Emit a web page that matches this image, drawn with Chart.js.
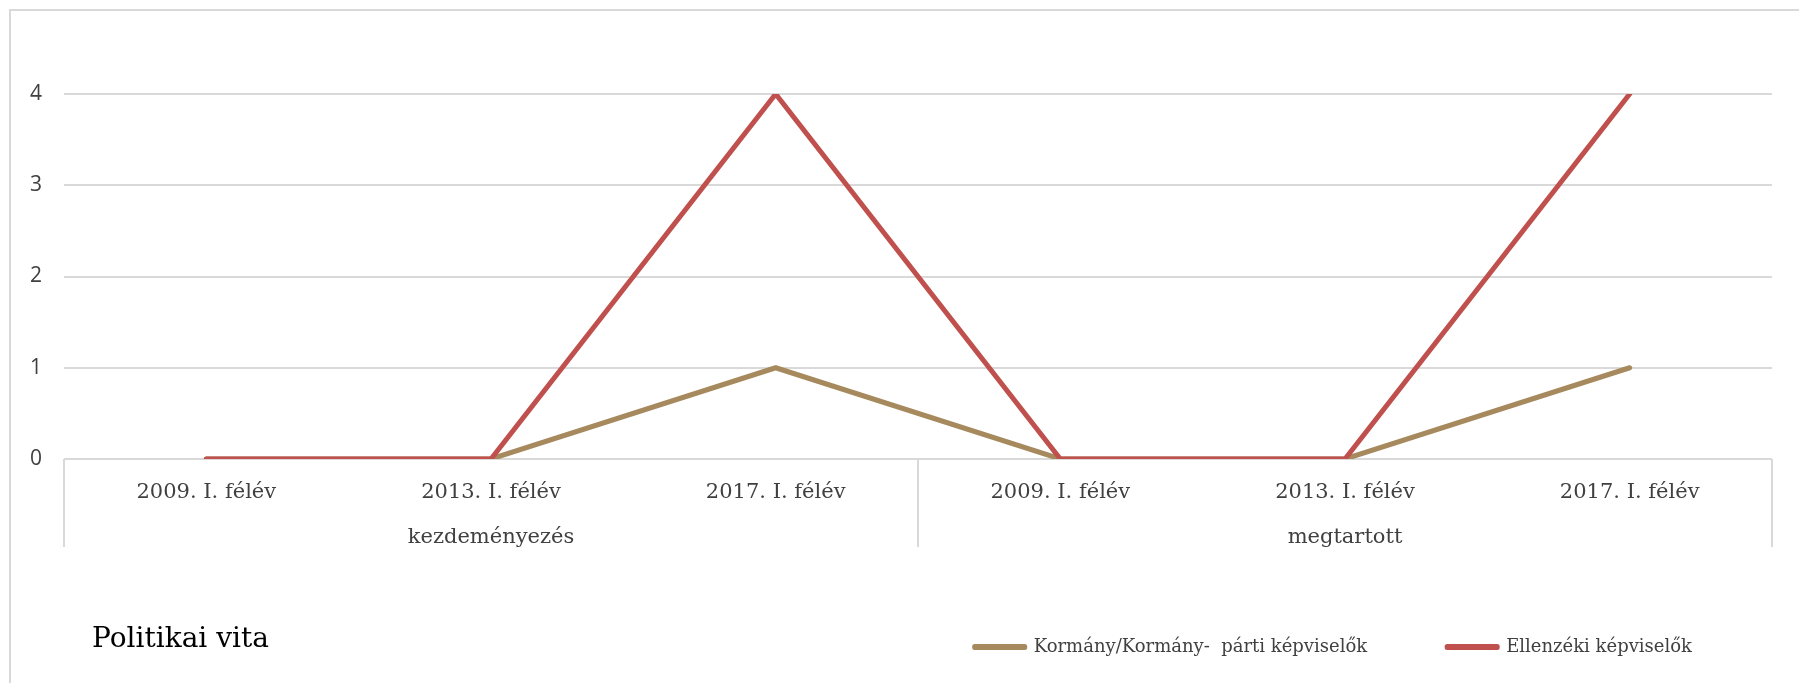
<!DOCTYPE html>
<html lang="hu">
<head>
<meta charset="utf-8">
<title>Politikai vita</title>
<script src="https://cdn.jsdelivr.net/npm/chart.js@4/dist/chart.umd.min.js"></script>
<style>
  html, body { margin: 0; padding: 0; background: #fff; overflow: hidden; }
  #frame { position: absolute; left: 9px; top: 9px; width: 1830px; height: 720px; border: 2px solid #d9d9d9; box-sizing: border-box; }
  #wrap { position: absolute; left: 0; top: 0; width: 1799px; height: 683px; }
  #title { position: absolute; left: 92px; top: 621px; font: 28px "DejaVu Serif", serif; line-height: 34px; color: #000; white-space: nowrap; }
</style>
</head>
<body>
<div id="frame"></div>
<div id="wrap"><canvas id="chart"></canvas></div>
<div id="title">Politikai vita</div>
<script>
// adatok (leolvasva az ábráról)
const categories = ["2009. I. félév", "2013. I. félév", "2017. I. félév", "2009. I. félév", "2013. I. félév", "2017. I. félév"];
const groups = ["kezdeményezés", "megtartott"];
const seriesNames = ["Kormány/Kormány-  párti képviselők", "Ellenzéki képviselők"];
const kormany = [0, 0, 1, 0, 0, 1];
const ellenzek = [0, 0, 4, 0, 0, 4];
const yTicks = [0, 1, 2, 3, 4];

const TAN = "#A68A5E", RED = "#C0504D", GRID = "#d9d9d9";
const serif = "'DejaVu Serif', serif";

new Chart(document.getElementById("chart"), {
  type: "line",
  data: {
    labels: categories,
    datasets: [
      { label: seriesNames[0], data: kormany, borderColor: TAN, backgroundColor: TAN, order: 2 },
      { label: seriesNames[1], data: ellenzek, borderColor: RED, backgroundColor: RED, order: 1 }
    ]
  },
  options: {
    responsive: true,
    maintainAspectRatio: false,
    animation: false,
    layout: { padding: { left: 0, right: 27, top: 94, bottom: 17 } },
    elements: {
      line: { borderWidth: 5, tension: 0, borderCapStyle: "round", borderJoinStyle: "round" },
      point: { radius: 0, hoverRadius: 0 }
    },
    scales: {
      x: {
        offset: true,
        weight: 0,
        border: { display: false },
        grid: {
          offset: true,
          drawOnChartArea: false,
          tickLength: 88,
          lineWidth: 2,
          // csak a csoporthatárokon (0, 3, 6) látszik vonal
          color: (c) => (c.index === undefined || c.index % 3 === 0) ? GRID : "rgba(0,0,0,0)"
        },
        ticks: { padding: -67, maxRotation: 0, autoSkip: false, color: "#404040", font: { family: serif, size: 21 } },
        afterFit: (s) => { s.height = 46; }
      },
      xg: {
        type: "category",
        labels: groups,
        position: "bottom",
        offset: true,
        weight: 1,
        border: { display: false },
        grid: { display: false },
        ticks: { padding: 12, maxRotation: 0, color: "#404040", font: { family: serif, size: 21 } },
        afterFit: (s) => { s.height = 53; }
      },
      y: {
        min: 0,
        max: 4,
        afterBuildTicks: (s) => { s.ticks = yTicks.map(v => ({ value: v })); },
        border: { display: false },
        grid: { color: GRID, lineWidth: 2, drawTicks: false },
        ticks: { padding: 22, color: "#404040", font: { family: "'Open Sans', sans-serif", size: 21 } },
        afterFit: (s) => { s.width = 64; }
      }
    },
    plugins: {
      tooltip: { enabled: false },
      legend: {
        position: "bottom",
        align: "end",
        labels: {
          boxWidth: 50,
          boxHeight: 1,
          padding: 80,
          color: "#404040",
          font: { family: serif, size: 18 },
          sort: (a, b) => a.datasetIndex - b.datasetIndex
        }
      }
    }
  }
});
</script>
</body>
</html>
